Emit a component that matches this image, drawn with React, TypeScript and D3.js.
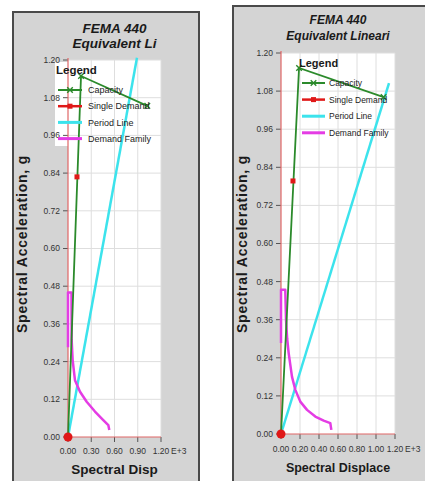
import React, { useEffect, useRef } from "react";
import * as d3 from "d3";

type Pt = [number, number];

// shared axis values
const yTicks = [0, 0.12, 0.24, 0.36, 0.48, 0.6, 0.72, 0.84, 0.96, 1.08, 1.2];
const xTicksLeft = [0, 0.3, 0.6, 0.9, 1.2];
const xTicksRight = [0, 0.2, 0.4, 0.6, 0.8, 1.0, 1.2];
const legendLabels = ["Capacity", "Single Demand", "Period Line", "Demand Family"];

// left chart data
const capacityLeft: Pt[] = [[0, 0], [0.168, 1.149], [1.023, 1.054]];
const singleDemandLeft: Pt[] = [[0.116, 0.828]];
const periodLineLeft: Pt[] = [[0, 0], [0.89, 1.207]];
const demandFamilyLeft: Pt[] = [
  [0, 0.286], [0, 0.46], [0.045, 0.46], [0.047, 0.309], [0.06, 0.245],
  [0.09, 0.181], [0.155, 0.144], [0.241, 0.112], [0.348, 0.081],
  [0.455, 0.054], [0.52, 0.038], [0.533, 0.022],
];

// right chart data
const capacityRight: Pt[] = [[0, 0], [0.19, 1.153], [1.08, 1.061]];
const singleDemandRight: Pt[] = [[0.126, 0.797]];
const periodLineRight: Pt[] = [[0, 0], [1.137, 1.105]];
const demandFamilyRight: Pt[] = [
  [0, 0.287], [0, 0.454], [0.045, 0.454], [0.053, 0.359], [0.065, 0.3],
  [0.081, 0.254], [0.116, 0.18], [0.151, 0.139], [0.203, 0.102],
  [0.274, 0.076], [0.361, 0.055], [0.449, 0.042], [0.519, 0.034], [0.53, 0.013],
];

const GREEN = "#2b8a2b";
const RED = "#e01818";
const CYAN = "#3ce3ec";
const MAGENTA = "#e43ce4";
const FONT = "Arial, 'Liberation Sans', sans-serif";

interface PanelCfg {
  frame: [number, number, number, number];
  left: number;
  right: number;
  top: number;
  bottom: number;
  xTicks: number[];
  titles: [string, string];
  titleSize: number;
  titleX: number;
  titleY: [number, number];
  xTitle: string;
  xTitleSize: number;
  xTitleY: number;
  xLabelY: number;
  yTitleX: number;
  legend: { x: number; y: number; size: number; lx0: number; lx1: number; tx: number; row0: number; gap: number; fs: number; bg?: [number, number, number, number] };
  capacity: Pt[];
  single: Pt[];
  period: Pt[];
  demand: Pt[];
}

const panels: PanelCfg[] = [
  {
    frame: [13, 12, 186, 480],
    left: 68, right: 161, top: 60, bottom: 437,
    xTicks: xTicksLeft,
    titles: ["FEMA 440", "Equivalent Li"],
    titleSize: 13.5, titleX: 114.5, titleY: [33, 48],
    xTitle: "Spectral Disp", xTitleSize: 13.5, xTitleY: 474, xLabelY: 454,
    yTitleX: 22,
    legend: { x: 56, y: 74, size: 11.5, lx0: 58, lx1: 82, tx: 88, row0: 90, gap: 16.2, fs: 9, bg: [55, 62, 106, 84] },
    capacity: capacityLeft, single: singleDemandLeft, period: periodLineLeft, demand: demandFamilyLeft,
  },
  {
    frame: [233, 6, 220, 490],
    left: 281, right: 395, top: 53, bottom: 434,
    xTicks: xTicksRight,
    titles: ["FEMA 440", "Equivalent Lineari"],
    titleSize: 12, titleX: 338, titleY: [24, 40],
    xTitle: "Spectral Displace", xTitleSize: 12.5, xTitleY: 472, xLabelY: 452,
    yTitleX: 242,
    legend: { x: 299, y: 67, size: 11, lx0: 302, lx1: 325, tx: 329, row0: 83, gap: 16.6, fs: 8.5 },
    capacity: capacityRight, single: singleDemandRight, period: periodLineRight, demand: demandFamilyRight,
  },
];

const drawPanel = (root: d3.Selection<SVGSVGElement, unknown, null, undefined>, p: PanelCfg) => {
  const g = root.append("g");
  const [fx, fy, fw, fh] = p.frame;

  g.append("rect")
    .attr("x", fx).attr("y", fy).attr("width", fw).attr("height", fh)
    .attr("fill", "#d4d4d4").attr("stroke", "#4a4a4a").attr("stroke-width", 2);

  const x = d3.scaleLinear().domain([0, 1.2]).range([p.left, p.right]);
  const y = d3.scaleLinear().domain([0, 1.2]).range([p.bottom, p.top]);

  if (p.legend.bg) {
    const [bx, by, bw, bh] = p.legend.bg;
    g.append("rect").attr("x", bx).attr("y", by).attr("width", bw).attr("height", bh).attr("fill", "#fff");
  }

  g.append("rect")
    .attr("x", p.left).attr("y", p.top)
    .attr("width", p.right - p.left).attr("height", p.bottom - p.top)
    .attr("fill", "#fff");

  // grid
  g.selectAll(".vg").data(p.xTicks.slice(1)).join("line")
    .attr("x1", (d) => x(d)).attr("x2", (d) => x(d))
    .attr("y1", p.top).attr("y2", p.bottom)
    .attr("stroke", "#dedede").attr("stroke-width", 1);
  g.selectAll(".hg").data(yTicks.slice(1)).join("line")
    .attr("x1", p.left).attr("x2", p.right)
    .attr("y1", (d) => y(d)).attr("y2", (d) => y(d))
    .attr("stroke", "#dedede").attr("stroke-width", 1);

  // y ticks + labels
  g.selectAll(".yt").data(yTicks).join("line")
    .attr("x1", p.left - 5).attr("x2", p.left)
    .attr("y1", (d) => y(d)).attr("y2", (d) => y(d))
    .attr("stroke", "#555");
  g.selectAll(".yl").data(yTicks).join("text")
    .attr("x", p.left - 8).attr("y", (d) => y(d))
    .attr("dy", "0.35em").attr("text-anchor", "end")
    .attr("font-family", FONT).attr("font-size", 8.5).attr("fill", "#333")
    .text((d) => d3.format(".2f")(d));

  // x ticks + labels
  g.selectAll(".xt").data(p.xTicks).join("line")
    .attr("x1", (d) => x(d)).attr("x2", (d) => x(d))
    .attr("y1", p.bottom).attr("y2", p.bottom + 5)
    .attr("stroke", "#555");
  g.selectAll(".xl").data(p.xTicks).join("text")
    .attr("x", (d) => x(d)).attr("y", p.xLabelY)
    .attr("text-anchor", "middle")
    .attr("font-family", FONT).attr("font-size", 8.5).attr("fill", "#333")
    .text((d) => d3.format(".2f")(d));
  g.append("text")
    .attr("x", x(1.2) + 10).attr("y", p.xLabelY)
    .attr("font-family", FONT).attr("font-size", 8.5).attr("fill", "#333")
    .text("E+3");

  // axis lines
  g.append("line").attr("x1", p.left).attr("x2", p.left).attr("y1", p.top - 2).attr("y2", p.bottom)
    .attr("stroke", "#e06666").attr("stroke-width", 1.2);
  g.append("line").attr("x1", p.left).attr("x2", p.right).attr("y1", p.bottom).attr("y2", p.bottom)
    .attr("stroke", "#e06666").attr("stroke-width", 1.2);

  // titles
  p.titles.forEach((t, i) => {
    g.append("text")
      .attr("x", p.titleX).attr("y", p.titleY[i])
      .attr("text-anchor", "middle")
      .attr("font-family", FONT).attr("font-size", p.titleSize)
      .attr("font-weight", "bold").attr("font-style", "italic").attr("fill", "#1a1a1a")
      .text(t);
  });
  g.append("text")
    .attr("x", (p.left + p.right) / 2).attr("y", p.xTitleY)
    .attr("text-anchor", "middle")
    .attr("font-family", FONT).attr("font-size", p.xTitleSize)
    .attr("font-weight", "bold").attr("fill", "#1a1a1a")
    .text(p.xTitle);
  g.append("text")
    .attr("transform", `translate(${p.yTitleX},244) rotate(-90)`)
    .attr("text-anchor", "middle").attr("dy", "0.35em")
    .attr("font-family", FONT).attr("font-size", 14)
    .attr("letter-spacing", 0.8)
    .attr("font-weight", "bold").attr("fill", "#1a1a1a")
    .text("Spectral Acceleration, g");

  const line = d3.line<Pt>().x((d) => x(d[0])).y((d) => y(d[1]));

  g.append("path").attr("d", line(p.period))
    .attr("fill", "none").attr("stroke", CYAN).attr("stroke-width", 2.5);
  g.append("path").attr("d", line(p.demand))
    .attr("fill", "none").attr("stroke", MAGENTA).attr("stroke-width", 2.5)
    .attr("stroke-linejoin", "round");
  g.append("path").attr("d", line(p.capacity))
    .attr("fill", "none").attr("stroke", GREEN).attr("stroke-width", 1.8);

  const cross = d3.symbol().type(d3.symbolX).size(22);
  g.selectAll(".cx").data(p.capacity.slice(1)).join("path")
    .attr("d", cross)
    .attr("transform", (d) => `translate(${x(d[0])},${y(d[1])})`)
    .attr("fill", "none").attr("stroke", GREEN).attr("stroke-width", 1.4);

  g.selectAll(".sd").data(p.single).join("rect")
    .attr("x", (d) => x(d[0]) - 2.5).attr("y", (d) => y(d[1]) - 2.5)
    .attr("width", 5).attr("height", 5).attr("fill", RED);

  g.append("circle").attr("cx", x(0)).attr("cy", y(0)).attr("r", 4.5).attr("fill", RED);

  // legend
  const L = p.legend;
  g.append("text")
    .attr("x", L.x).attr("y", L.y)
    .attr("font-family", FONT).attr("font-size", L.size)
    .attr("font-weight", "bold").attr("fill", "#1a1a1a")
    .text("Legend");
  const colors = [GREEN, RED, CYAN, MAGENTA];
  const widths = [2, 2.5, 3, 3];
  legendLabels.forEach((lab, i) => {
    const ly = L.row0 + i * L.gap;
    g.append("line")
      .attr("x1", L.lx0).attr("x2", L.lx1).attr("y1", ly).attr("y2", ly)
      .attr("stroke", colors[i]).attr("stroke-width", widths[i]);
    const mx = (L.lx0 + L.lx1) / 2;
    if (i === 0) {
      g.append("path").attr("d", cross)
        .attr("transform", `translate(${mx},${ly})`)
        .attr("fill", "none").attr("stroke", GREEN).attr("stroke-width", 1.4);
    }
    if (i === 1) {
      g.append("rect").attr("x", mx - 2.5).attr("y", ly - 2.5)
        .attr("width", 5).attr("height", 5).attr("fill", RED);
    }
    g.append("text")
      .attr("x", L.tx).attr("y", ly).attr("dy", "0.35em")
      .attr("font-family", FONT).attr("font-size", L.fs).attr("fill", "#222")
      .text(lab);
  });
};

const App: React.FC = () => {
  const svgRef = useRef<SVGSVGElement | null>(null);

  useEffect(() => {
    if (!svgRef.current) return;
    const svg = d3.select(svgRef.current);
    svg.selectAll("*").remove();
    svg.append("rect").attr("width", 425).attr("height", 481).attr("fill", "#fff");
    panels.forEach((p) => drawPanel(svg, p));
  }, []);

  return (
    <svg
      ref={svgRef}
      width={425}
      height={481}
      style={{ position: "absolute", left: 0, top: 0, display: "block" }}
    ></svg>
  );
};

export default App;
